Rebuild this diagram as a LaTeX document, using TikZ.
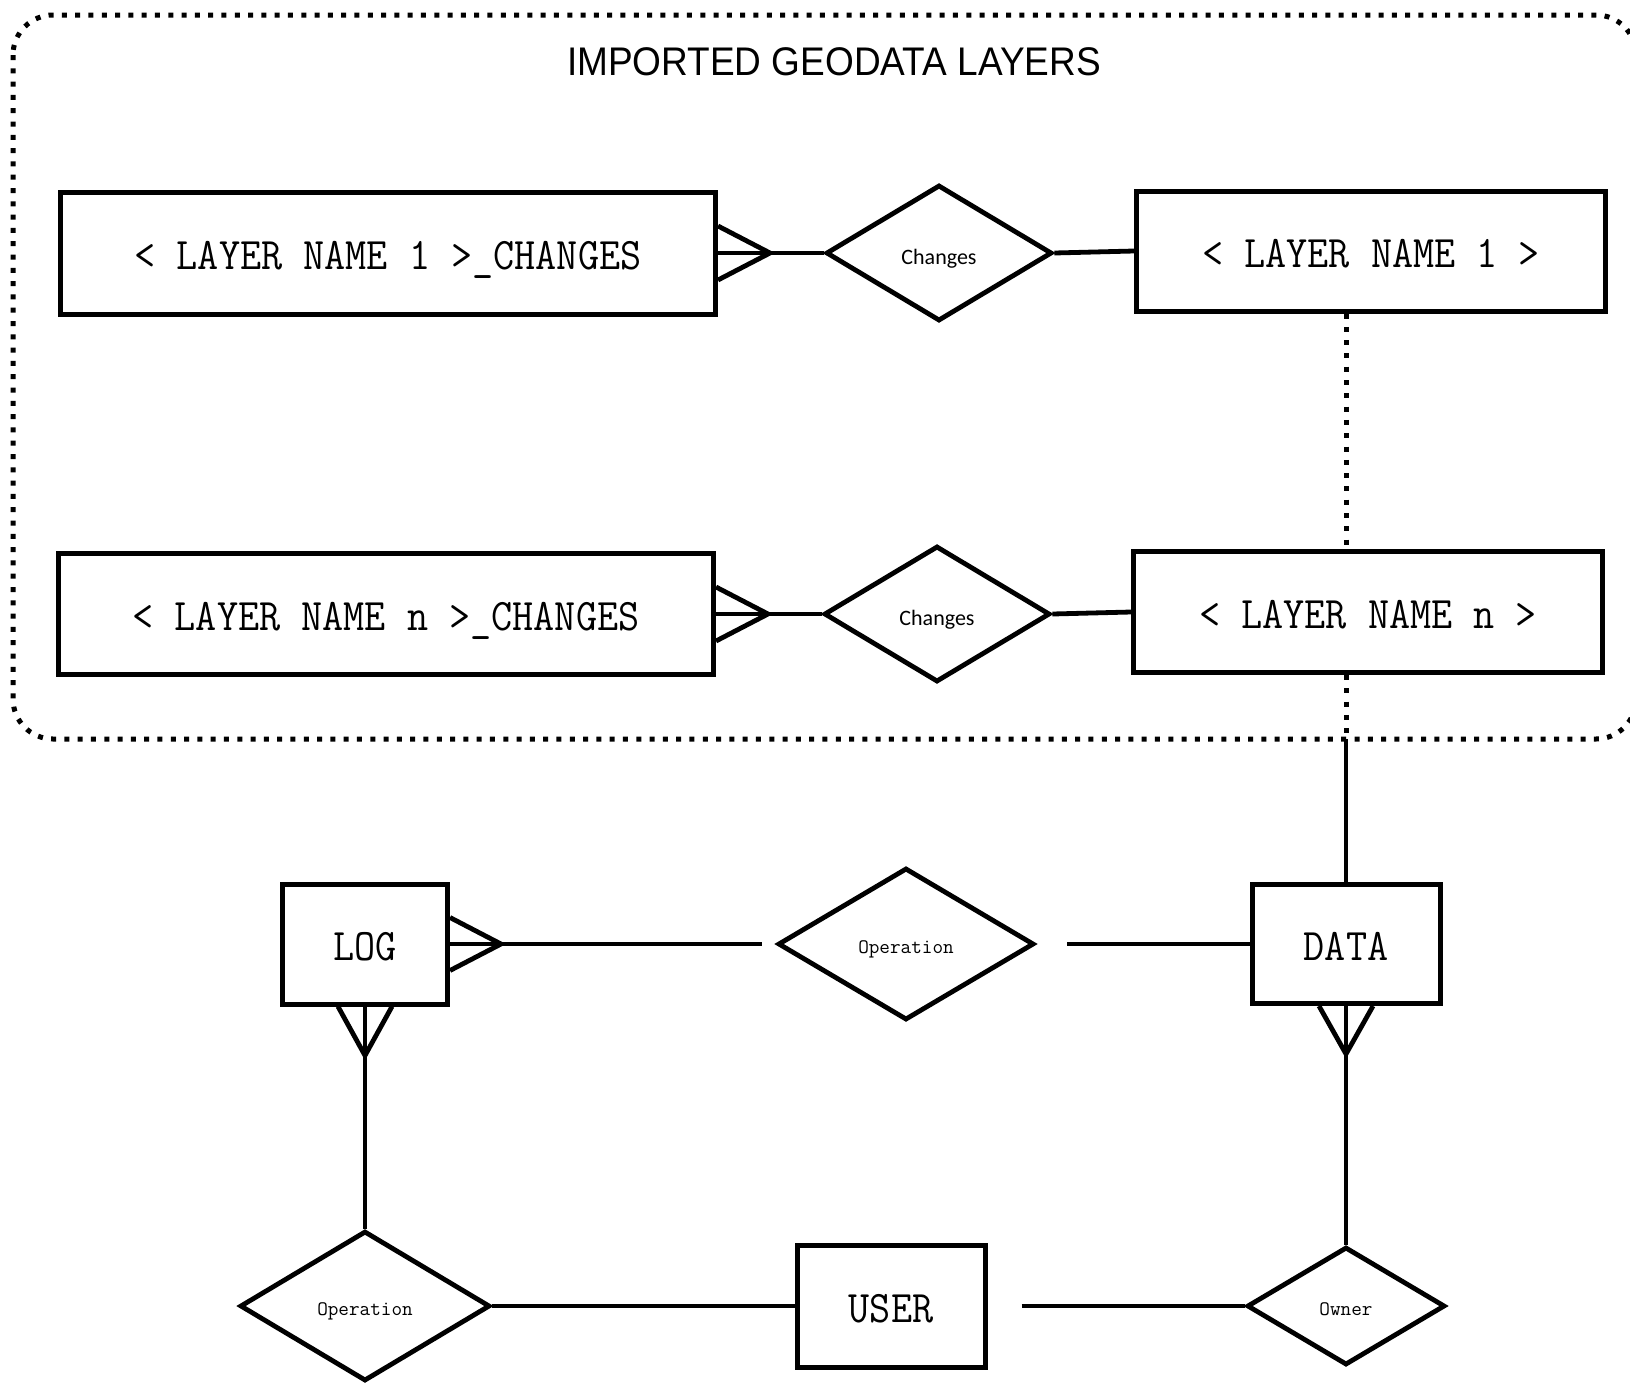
\documentclass[tikz,border=0pt]{standalone}
\usepackage{fontspec}
\newfontfamily\titlefont{Liberation Sans}
\newfontfamily\chfont{Carlito}
\usetikzlibrary{shapes.geometric}
\newcommand{\enfont}{\ttfamily\fontsize{41}{41}\selectfont}
\newcommand{\relfont}{\ttfamily\fontsize{20.6}{21}\selectfont}
\begin{document}
\begin{tikzpicture}[x=1pt,y=-1pt,
  ent/.style={draw, line width=5pt, inner sep=0pt, font=\enfont, text height=33.5pt, text depth=0pt},
  rel/.style={draw, shape=diamond, line width=4.8pt, inner sep=0pt, font=\relfont, text height=19.6pt, text depth=0pt},
  chrel/.style={rel, font=\chfont\fontsize{22}{22}\selectfont, text height=22pt},
  conn/.style={line width=4.8pt},
  dotline/.style={line width=5pt, dash pattern=on 5pt off 8.3pt},
  crow/.style={line width=4.8pt}
]
\useasboundingbox (0,0) rectangle (1630,1382);

% outer dotted frame
\draw[dotline, rounded corners=40pt] (13,15) rectangle (1636,739);
\node[font=\titlefont\fontsize{37}{37}\selectfont] (title) at (834,62) {\scalebox{1}[1.08]{IMPORTED GEODATA LAYERS}};

% entities
\node[ent, minimum width=655pt, minimum height=122pt] (LN1C) at (388,253) {\scalebox{1}[1.1]{< LAYER NAME 1 >\_CHANGES}};
\node[ent, minimum width=655pt, minimum height=121pt] (LNnC) at (386,614) {\scalebox{1}[1.1]{< LAYER NAME n >\_CHANGES}};
\node[ent, minimum width=469pt, minimum height=120pt] (LN1) at (1371,251) {\scalebox{1}[1.1]{< LAYER NAME 1 >}};
\node[ent, minimum width=469pt, minimum height=121pt] (LNn) at (1368,612) {\scalebox{1}[1.1]{< LAYER NAME n >}};
\node[ent, minimum width=165pt, minimum height=120pt] (LOG) at (365,944) {\scalebox{1}[1.1]{LOG}};
\node[ent, minimum width=188pt, minimum height=119pt] (DATA) at (1346,944) {\scalebox{1}[1.1]{DATA}};
\node[ent, minimum width=188pt, minimum height=122pt] (USER) at (891,1306) {\scalebox{1}[1.1]{USER}};

% relationships
\node[chrel, minimum width=226pt, minimum height=136pt] (D1) at (939,253) {Changes};
\node[chrel, minimum width=226pt, minimum height=136pt] (D2) at (937,614) {Changes};
\node[rel, minimum width=256pt, minimum height=152pt] (D3) at (906,944) {Operation};
\node[rel, minimum width=250pt, minimum height=150pt] (D4) at (365,1306) {Operation};
\node[rel, minimum width=198pt, minimum height=118pt] (D5) at (1346,1306) {Owner};

% crow's feet tips
\path (LN1C.east) ++(52,0) coordinate (t1);
\path (LNnC.east) ++(52,0) coordinate (t2);
\path (LOG.east) ++(51,0) coordinate (t3);
\path (LOG.south) ++(0,49) coordinate (t4);
\path (DATA.south) ++(0,48) coordinate (t5);

\draw[crow] ([yshift=27pt]LN1C.east) -- (t1) -- ([yshift=-27pt]LN1C.east);
\draw[crow] ([yshift=27pt]LNnC.east) -- (t2) -- ([yshift=-27pt]LNnC.east);
\draw[crow] ([yshift=26.5pt]LOG.east) -- (t3) -- ([yshift=-26.5pt]LOG.east);
\draw[crow] ([xshift=-27pt]LOG.south) -- (t4) -- ([xshift=27pt]LOG.south);
\draw[crow] ([xshift=-27pt]DATA.south) -- (t5) -- ([xshift=27pt]DATA.south);

% connectors
\draw[conn] (LN1C.east) -- (D1.west);
\draw[conn] (D1.east) -- (LN1.west);
\draw[conn] (LNnC.east) -- (D2.west);
\draw[conn] (D2.east) -- (LNn.west);
\draw[conn, shorten >=14pt] (LOG.east) -- (D3.west);
\draw[conn, shorten <=31pt] (D3.east) -- (DATA.west);
\draw[conn] (LOG.south) -- (D4.north);
\draw[conn] (D4.east) -- (USER.west);
\draw[conn, shorten <=34pt] (USER.east) -- (D5.west);
\draw[conn] (DATA.south) -- (D5.north);

% dotted link between layers and down to DATA
\coordinate (bord) at (1346,739);
\draw[dotline] (DATA.north |- LN1.south) -- (DATA.north |- LNn.north);
\draw[dotline] (DATA.north |- LNn.south) -- (bord);
\draw[conn] (bord) -- (DATA.north);
\end{tikzpicture}
\end{document}
